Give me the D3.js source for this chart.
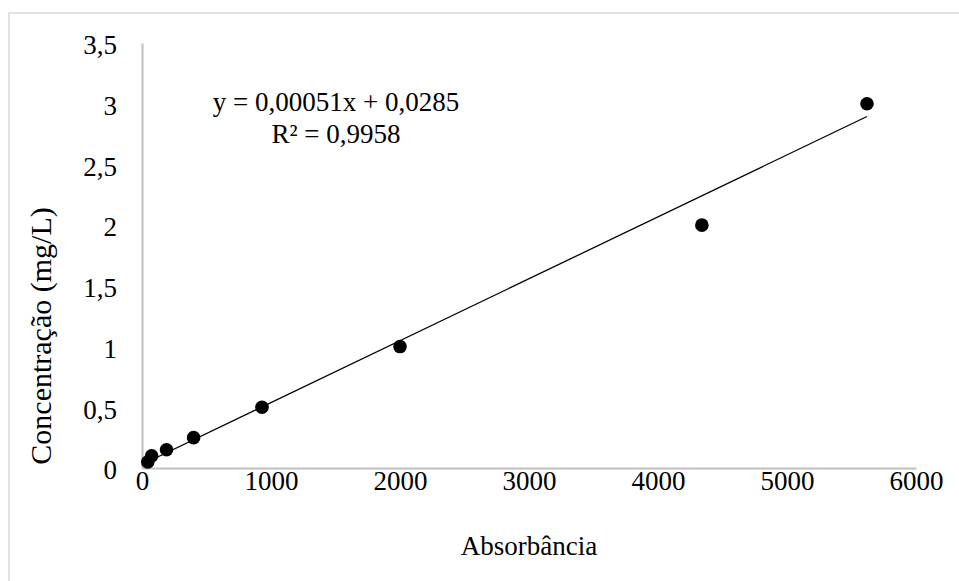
<!DOCTYPE html>
<html><head><meta charset="utf-8">
<script src="https://cdn.jsdelivr.net/npm/d3@7"></script>
<style>body{margin:0;background:#fff}svg{display:block}</style>
</head><body>
<script>
const absorbancia = [45, 75, 190, 400, 930, 2000, 4340, 5620];
const concentracao = [0.05, 0.1, 0.15, 0.25, 0.5, 1, 2, 3];
const xTicks = [0, 1000, 2000, 3000, 4000, 5000, 6000];
const yTicks = [0, 0.5, 1, 1.5, 2, 2.5, 3, 3.5];
const trendSlope = 0.00051, trendIntercept = 0.0285;
const eqLines = ["y = 0,00051x + 0,0285", "R² = 0,9958"];

const W = 959, H = 581;
const svg = d3.select("body").append("svg").attr("width", W).attr("height", H);
const font = "'Liberation Serif','Times New Roman',serif";

svg.append("rect").attr("x", 9).attr("y", 13).attr("width", 960).attr("height", 600)
  .attr("fill", "none").attr("stroke", "#d9d9d9").attr("stroke-width", 1.5);

const x = d3.scaleLinear().domain([0, 6000]).range([142, 916]);
const y = d3.scaleLinear().domain([0, 3.5]).range([468, 43]);
const fmt = d => String(d).replace(".", ",");

// axes
const xAxis = svg.append("g").attr("transform", `translate(0,${y(0)})`)
  .call(d3.axisBottom(x).tickValues(xTicks).tickSize(0).tickPadding(3).tickFormat(fmt));
const yAxis = svg.append("g").attr("transform", `translate(${x(0)},0)`)
  .call(d3.axisLeft(y).tickValues(yTicks).tickSize(0).tickPadding(25).tickFormat(fmt));
[xAxis, yAxis].forEach(a => {
  a.select(".domain").attr("stroke", "#bfbfbf").attr("stroke-width", 2);
  a.selectAll("text").attr("font-family", font).attr("font-size", 27).attr("fill", "#000");
});
yAxis.selectAll("text").attr("dy", "0.4em");

// trendline
const xr = d3.extent(absorbancia);
svg.append("line")
  .attr("x1", x(xr[0])).attr("y1", y(trendSlope * xr[0] + trendIntercept))
  .attr("x2", x(xr[1])).attr("y2", y(trendSlope * xr[1] + trendIntercept))
  .attr("stroke", "#000").attr("stroke-width", 1.3);

// points
svg.append("g").selectAll("circle").data(absorbancia).join("circle")
  .attr("cx", d => x(d)).attr("cy", (d, i) => y(concentracao[i]))
  .attr("r", 6.8).attr("fill", "#000");

// equation
svg.append("g").selectAll("text").data(eqLines).join("text")
  .attr("x", 336).attr("y", (d, i) => 111 + i * 32)
  .attr("text-anchor", "middle").attr("font-family", font).attr("font-size", 27)
  .text(d => d);

// titles
svg.append("text").attr("x", 529).attr("y", 555).attr("text-anchor", "middle")
  .attr("font-family", font).attr("font-size", 27).text("Absorbância");
svg.append("text").attr("transform", "translate(51,336) rotate(-90)")
  .attr("text-anchor", "middle").attr("font-family", font).attr("font-size", 30)
  .text("Concentração (mg/L)");
</script>
</body></html>
